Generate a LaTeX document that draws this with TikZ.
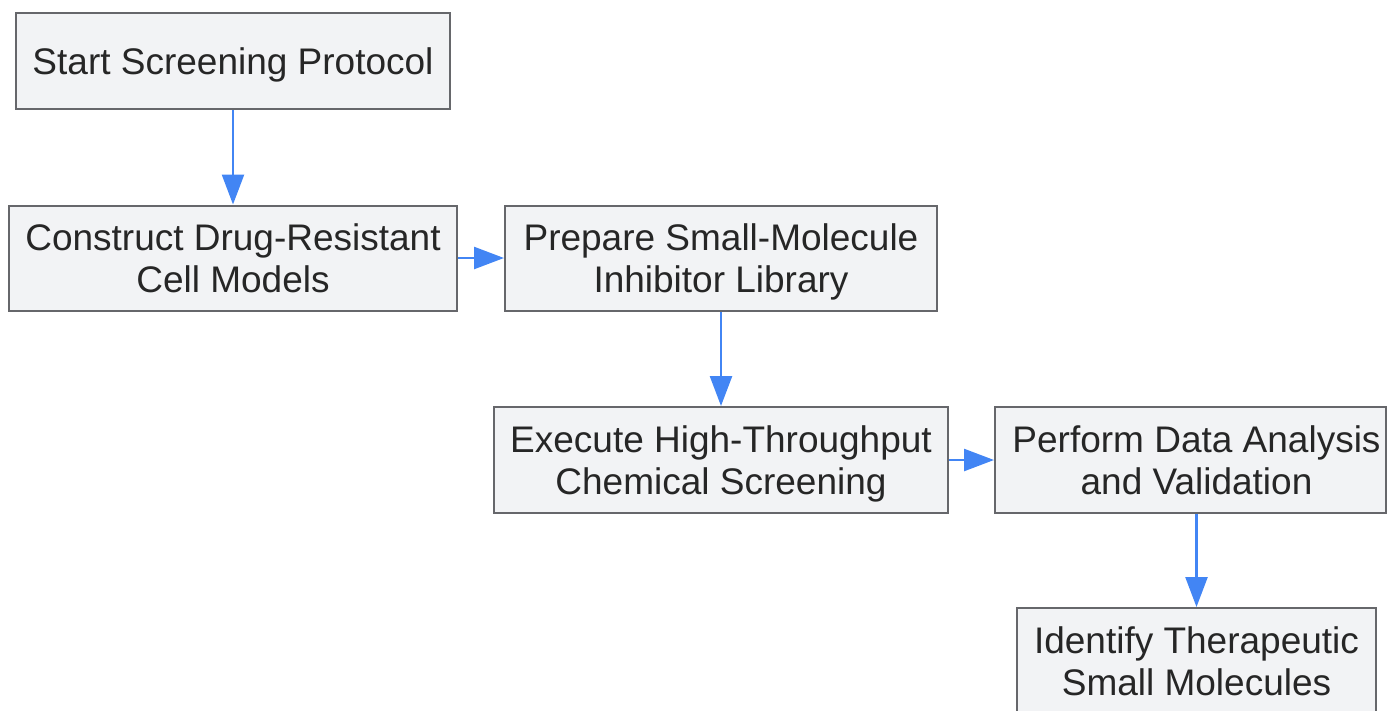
\documentclass[tikz,border=0pt]{standalone}
\usepackage{fontspec}
\setmainfont{Liberation Sans}
\usetikzlibrary{arrows.meta}
\definecolor{boxfill}{HTML}{F2F3F5}
\definecolor{boxline}{HTML}{66676B}
\definecolor{flowblue}{HTML}{4285F4}
\tikzset{
  stepbox/.style={draw=boxline,fill=boxfill,line width=2pt,align=center,
    inner sep=0pt,text depth=0pt,text=black!85,font=\fontsize{37}{42}\selectfont},
  flow/.style={draw=flowblue,line width=2.5pt,-{Triangle[length=30pt,width=22pt]}}
}
\begin{document}
\begin{tikzpicture}[x=1pt,y=-1pt]
\useasboundingbox (0,0) rectangle (1387,710);
\node[stepbox,minimum width=434pt,minimum height=96pt] (start) at (233,61) {Start Screening Protocol};
\node[stepbox,minimum width=448pt,minimum height=105pt] (construct) at (233,258) {Construct Drug-Resistant\\Cell Models};
\node[stepbox,minimum width=432pt,minimum height=105pt] (prepare) at (721,258) {Prepare Small-Molecule\\Inhibitor Library};
\node[stepbox,minimum width=454pt,minimum height=106pt] (execute) at (721,460) {Execute High-Throughput\\Chemical Screening};
\node[stepbox,minimum width=391pt,minimum height=106pt] (perform) at (1190.5,460) {\hspace*{12pt}Perform Data Analysis\\\hspace*{12pt}and Validation};
\node[stepbox,minimum width=359pt,minimum height=106pt] (identify) at (1196.5,661) {Identify Therapeutic\\Small Molecules};
\draw[flow] (start) -- (construct);
\draw[flow] (construct) -- (prepare);
\draw[flow] (prepare) -- (execute);
\draw[flow] (execute) -- (perform);
\draw[flow] (perform.south -| identify.north) -- (identify.north);
\end{tikzpicture}
\end{document}
